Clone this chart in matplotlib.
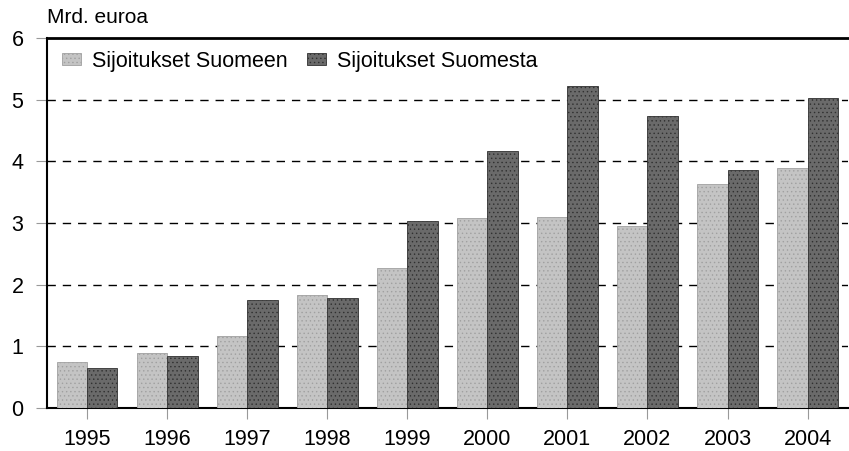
import matplotlib.pyplot as plt
import numpy as np

plt.rcParams['font.family'] = ['Liberation Sans', 'DejaVu Sans']
plt.rcParams['hatch.color'] = '#ffffff'
plt.rcParams['hatch.linewidth'] = 0.5

years = ['1995', '1996', '1997', '1998', '1999', '2000', '2001', '2002', '2003', '2004']
suomeen = [0.75, 0.90, 1.17, 1.83, 2.27, 3.08, 3.10, 2.95, 3.63, 3.90]
suomesta = [0.65, 0.84, 1.75, 1.78, 3.03, 4.17, 5.22, 4.73, 3.86, 5.03]

fig = plt.figure(figsize=(8.49, 4.51), dpi=100)
ax = fig.add_axes([0.0554, 0.0953, 0.943, 0.82])

x = np.arange(len(years))
w = 0.38
ax.bar(x - w/2, suomeen, w, color='#c4c4c4', edgecolor='#a0a0a0', linewidth=0.6,
       hatch='....', label='Sijoitukset Suomeen', zorder=3)
ax.bar(x + w/2, suomesta, w, color='#6a6a6a', edgecolor='#303030', linewidth=0.6,
       hatch='....', label='Sijoitukset Suomesta', zorder=3)

ax.set_xlim(-0.5, len(years) - 0.5)
ax.set_ylim(0, 6)
ax.set_yticks(range(7))
ax.set_xticks(x)
ax.set_xticklabels(years)
ax.tick_params(axis='both', labelsize=15.5, length=8, width=0.8, color='#999999')
ax.tick_params(axis='x', pad=7)
ax.tick_params(axis='y', pad=9)

for v in range(1, 6):
    ax.axhline(v, color='black', linestyle=(0, (6, 5)), linewidth=1, zorder=1)

ax.spines['right'].set_visible(False)
ax.spines['top'].set_linewidth(2)
ax.spines['left'].set_linewidth(1.5)
ax.spines['bottom'].set_linewidth(1.5)

ax.text(0.0, 1.03, 'Mrd. euroa', transform=ax.transAxes, fontsize=15, va='bottom', ha='left')

ax.legend(loc='upper left', ncol=2, frameon=False, fontsize=15.5, handlelength=0.9,
          handleheight=0.5, columnspacing=0.9, handletextpad=0.5, borderpad=0.4,
          bbox_to_anchor=(0.0075, 0.989), borderaxespad=0)

fig.savefig('out.png', dpi=100)
